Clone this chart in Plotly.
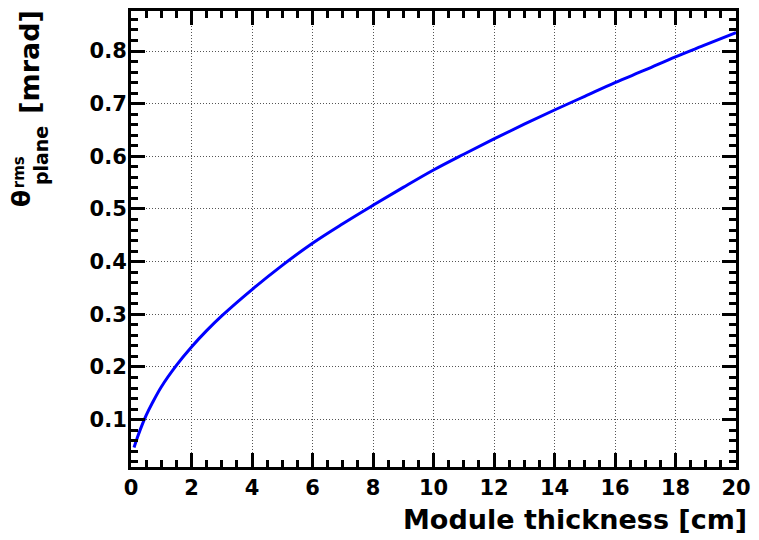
import plotly.graph_objects as go

# Data
thickness_cm = [0.1, 0.2, 0.3, 0.5, 0.7, 1.0, 1.5, 2, 2.5, 3, 4, 5, 6, 7, 8, 9, 10,
                11, 12, 13, 14, 15, 16, 17, 18, 19, 20]
theta_mrad = [0.047, 0.064, 0.080, 0.108, 0.131, 0.162, 0.203, 0.238, 0.269, 0.297,
              0.347, 0.393, 0.435, 0.472, 0.507, 0.541, 0.574, 0.604, 0.633, 0.661,
              0.688, 0.714, 0.740, 0.764, 0.789, 0.812, 0.835]
x_ticks = [0, 2, 4, 6, 8, 10, 12, 14, 16, 18, 20]
y_ticks = [0.1, 0.2, 0.3, 0.4, 0.5, 0.6, 0.7, 0.8]

W, H = 759, 540
L, R, T, B = 131, 743, 8, 467  # plot area in pixels
FONT = "DejaVu Sans"


def px(xp):
    return (xp - L) / (R - L)


def py(yp):
    return (B - yp) / (B - T)


fig = go.Figure()
fig.add_trace(go.Scatter(x=thickness_cm, y=theta_mrad, mode="lines",
                         line=dict(color="#0000ff", width=3, shape="spline"),
                         showlegend=False))

axis_common = dict(
    showline=True, linecolor="black", linewidth=3, mirror="allticks",
    ticks="inside", ticklen=14, tickwidth=3, tickcolor="black",
    showgrid=True, gridcolor="#555555", gridwidth=1, griddash="1px,2px",
    zeroline=False,
    tickfont=dict(family=FONT, size=21, color="black", weight="bold"),
)

fig.update_xaxes(range=[0, 20], tickvals=x_ticks, ticktext=[str(v) for v in x_ticks],
                 minor=dict(dtick=0.5, tick0=0, ticks="inside", ticklen=7, tickwidth=3,
                            tickcolor="black", showgrid=False),
                 **axis_common)
fig.update_yaxes(range=[0.01, 0.876], tickvals=y_ticks, ticktext=[f"{v:.1f}" for v in y_ticks],
                 minor=dict(dtick=0.02, tick0=0, ticks="inside", ticklen=7, tickwidth=3,
                            tickcolor="black", showgrid=False),
                 ticklabelstandoff=-3,
                 **axis_common)

ann = []
# x-axis title
ann.append(dict(text="Module thickness [cm]", xref="paper", yref="paper",
                x=px(756), y=py(520), xanchor="right", yanchor="middle", showarrow=False,
                font=dict(family=FONT, size=27, color="black", weight="bold")))
# y-axis title pieces (rotated)
ann.append(dict(text="[mrad]", xref="paper", yref="paper", textangle=-90,
                x=px(28), y=py(59), xanchor="center", yanchor="middle", showarrow=False,
                font=dict(family=FONT, size=27, color="black", weight="bold")))
ann.append(dict(text="θ", xref="paper", yref="paper", textangle=-90,
                x=px(21), y=py(197), xanchor="center", yanchor="middle", showarrow=False,
                font=dict(family=FONT, size=25, color="black", weight="bold")))
ann.append(dict(text="rms", xref="paper", yref="paper", textangle=-90,
                x=px(18), y=py(170), xanchor="center", yanchor="middle", showarrow=False,
                font=dict(family=FONT, size=15, color="black", weight="bold")))
ann.append(dict(text="plane", xref="paper", yref="paper", textangle=-90,
                x=px(40), y=py(154), xanchor="center", yanchor="middle", showarrow=False,
                font=dict(family=FONT, size=19, color="black", weight="bold")))

fig.update_layout(width=W, height=H, margin=dict(l=L, r=W - R, t=T, b=H - B),
                  paper_bgcolor="white", plot_bgcolor="white", annotations=ann,
                  font=dict(family=FONT, color="black"))

fig.write_html("out.html")
